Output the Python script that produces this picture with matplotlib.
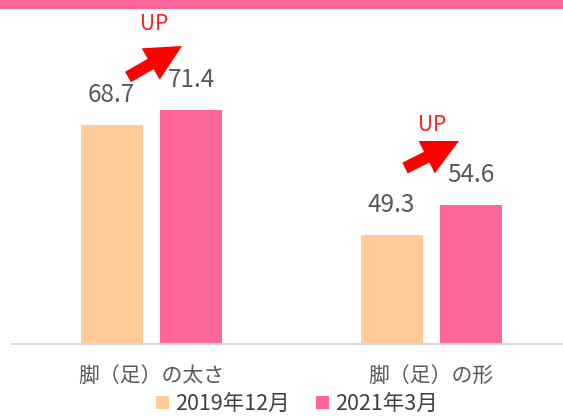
import matplotlib.pyplot as plt
import matplotlib.patches as mpatches
import numpy as np

plt.rcParams['font.family'] = ['Noto Sans CJK JP', 'DejaVu Sans']

# data
categories = ['脚（足）の太さ', '脚（足）の形']
series_names = ['2019年12月', '2021年3月']
vals_2019 = [68.7, 49.3]
vals_2021 = [71.4, 54.6]
colors = ['#FFCC99', '#FF6699']

W, H = 563, 417
fig = plt.figure(figsize=(W / 100, H / 100), dpi=100)

def fx(px):
    return px / W

def fy(py):
    return 1 - py / H

# pink band on top
fig.patches.append(mpatches.Rectangle((0, fy(8.5)), 1, 8.5 / H, transform=fig.transFigure,
                                      facecolor='#FF6699', edgecolor='none'))

ax = fig.add_axes([fx(12), fy(344), 1 - fx(12), (344 - 61) / H])
x = np.arange(len(categories))
w = 0.2214
off = 0.142
b1 = ax.bar(x - off, vals_2019, w, color=colors[0], label=series_names[0], zorder=2)
b2 = ax.bar(x + off, vals_2021, w, color=colors[1], label=series_names[1], zorder=2)
ax.set_ylim(30, 80)
ax.set_xlim(-0.498, 1.47)

for bars, vals in [(b1, vals_2019), (b2, vals_2021)]:
    for r, v in zip(bars, vals):
        ax.annotate(f'{v}', (r.get_x() + r.get_width() / 2, v), xytext=(0, 16.5),
                    textcoords='offset points', ha='center', va='baseline',
                    fontsize=17.5, color='#595959')

ax.set_xticks(x)
ax.set_xticklabels(categories, fontsize=15, color='#595959')
ax.tick_params(axis='x', length=0, pad=15)
ax.set_yticks([])
for s in ['top', 'right', 'left']:
    ax.spines[s].set_visible(False)
ax.spines['bottom'].set_color('#D9D9D9')
ax.spines['bottom'].set_linewidth(1.5)

# red UP arrows
arrows = [((128, 77), (182, 46), (154, 24)), ((405, 168), (459, 141), (432, 125))]
for tail, tip, txt in arrows:
    a = mpatches.FancyArrowPatch((fx(tail[0]), fy(tail[1])), (fx(tip[0]), fy(tip[1])),
                                 transform=fig.transFigure,
                                 arrowstyle='simple,head_length=26,head_width=26,tail_width=8.6',
                                 mutation_scale=1, shrinkA=0, shrinkB=0,
                                 color='#FF0000', lw=0)
    fig.patches.append(a)
    fig.text(fx(txt[0]), fy(txt[1]), 'UP', color='#FF2020', fontsize=15,
             ha='center', va='center')

fig.legend(handles=[b1, b2], labels=series_names, loc='center',
           bbox_to_anchor=(fx(297), fy(404)), ncol=2, frameon=False,
           fontsize=15.5, handlelength=0.6, handleheight=0.6, handletextpad=0.3,
           columnspacing=1.2, labelcolor='#404040')

fig.savefig('out.png', dpi=100)
